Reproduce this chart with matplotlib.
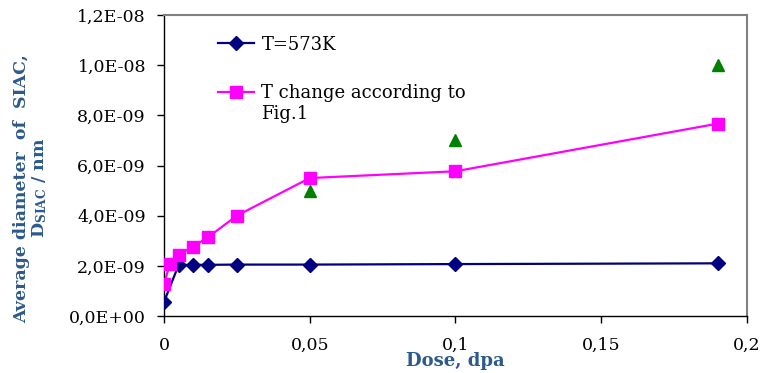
import matplotlib
matplotlib.use("Agg")
import matplotlib.pyplot as plt
from matplotlib.ticker import FuncFormatter, MultipleLocator

plt.rcParams['font.family'] = ['DejaVu Serif']
plt.rcParams['mathtext.fontset'] = 'custom'
plt.rcParams['mathtext.rm'] = 'DejaVu Serif:bold'

dose_573 = [0, 0.005, 0.01, 0.015, 0.025, 0.05, 0.1, 0.19]
diam_573 = [0.56e-9, 2.03e-9, 2.04e-9, 2.04e-9, 2.05e-9, 2.05e-9, 2.07e-9, 2.1e-9]

dose_chg = [0, 0.002, 0.005, 0.01, 0.015, 0.025, 0.05, 0.1, 0.19]
diam_chg = [1.28e-9, 2.07e-9, 2.44e-9, 2.77e-9, 3.13e-9, 4.0e-9, 5.5e-9, 5.77e-9, 7.67e-9]

dose_exp = [0.05, 0.1, 0.19]
diam_exp = [5.0e-9, 7.0e-9, 10.0e-9]

label_color = '#2c5a8c'

fig = plt.figure(figsize=(7.61, 3.73), dpi=100)
ax = fig.add_axes([0.2155, 0.1528, 0.766, 0.807])

ax.plot(dose_573, diam_573, color='#000080', marker='D', markersize=7, lw=1.6, label='T=573K', zorder=3)
ax.plot(dose_chg, diam_chg, color='#ff00ff', marker='s', markersize=8.5, lw=1.6,
        label='T change according to', zorder=4)
ax.plot(dose_exp, diam_exp, linestyle='none', color='#008000', marker='^', markersize=8.5, zorder=5)

ax.set_xlim(0, 0.2)
ax.set_ylim(0, 1.2e-8)
ax.xaxis.set_major_locator(MultipleLocator(0.05))
ax.yaxis.set_major_locator(MultipleLocator(2e-9))

def xfmt(v, p):
    if abs(v) < 1e-12:
        return '0'
    s = ('%.2f' % v).rstrip('0')
    return s.replace('.', ',')

def yfmt(v, p):
    s = '%.1E' % v
    mant, exp = s.split('E')
    e = int(exp)
    return mant.replace('.', ',') + 'E' + ('+' if e >= 0 else '-') + '%02d' % abs(e)

ax.xaxis.set_major_formatter(FuncFormatter(xfmt))
ax.yaxis.set_major_formatter(FuncFormatter(yfmt))
ax.tick_params(axis='both', direction='out', length=5, labelsize=12.5, width=1)
ax.tick_params(axis='x', pad=10)
ax.tick_params(axis='y', pad=8)

for side in ['top', 'right']:
    ax.spines[side].set_color('#808080')
    ax.spines[side].set_linewidth(1.5)
for side in ['left', 'bottom']:
    ax.spines[side].set_color('black')
    ax.spines[side].set_linewidth(1)

ax.set_xlabel('Dose, dpa', fontsize=13, fontweight='bold', color=label_color)
ax.xaxis.set_label_coords(0.5, -0.12)
ax.set_ylabel('Average diameter  of  SIAC,\nD$\\mathregular{_{SIAC}}$ / nm', fontsize=12.5,
              fontweight='bold', color=label_color, linespacing=1.0)
ax.yaxis.set_label_coords(-0.197, 0.425)

leg = ax.legend(loc='upper left', bbox_to_anchor=(0.065, 0.985), frameon=False, fontsize=13,
                handlelength=2.0, labelspacing=1.7, handletextpad=0.4)

fig.canvas.draw()
t = leg.get_texts()[1]
bb = t.get_window_extent()
x0, y0 = ax.transAxes.inverted().transform((bb.x0, bb.y0))
ax.text(x0, y0 - 0.01, 'Fig.1', transform=ax.transAxes, fontsize=13, va='top', ha='left')

fig.savefig('out.png', dpi=100)
